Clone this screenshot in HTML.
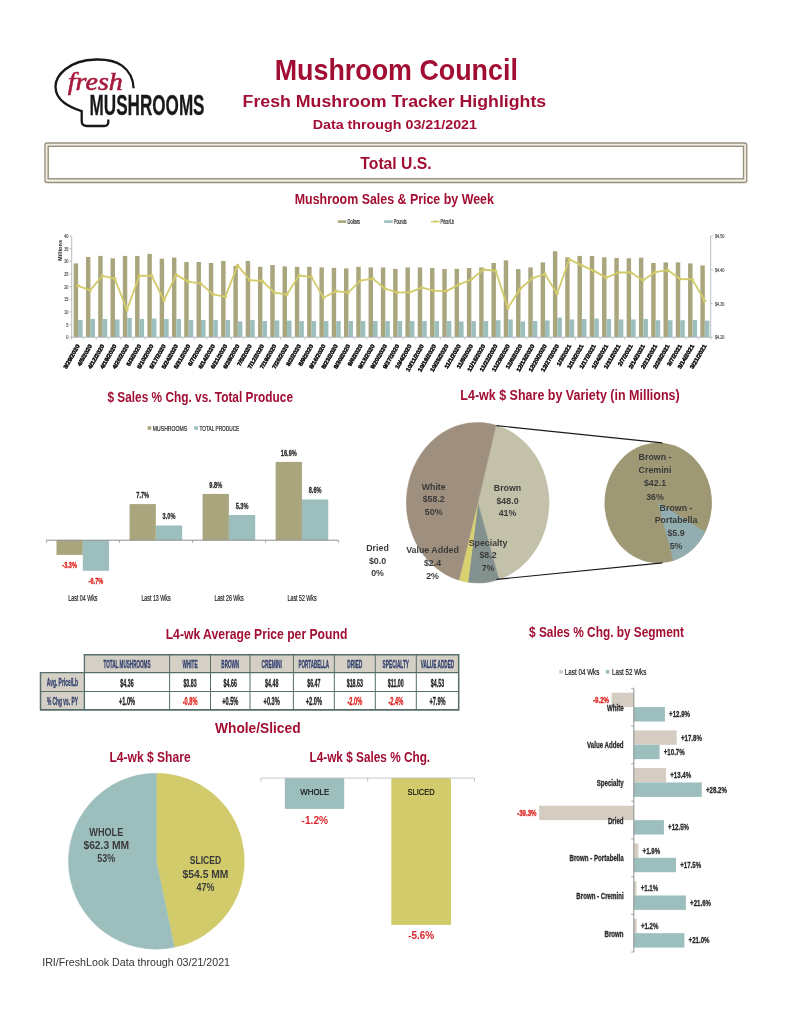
<!DOCTYPE html>
<html lang="en"><head><meta charset="utf-8"><title>Mushroom Council - Fresh Mushroom Tracker Highlights</title>
<style>html,body{margin:0;padding:0;background:#fff}svg{display:block}text{white-space:pre}</style></head>
<body>
<svg width="791" height="1024" viewBox="0 0 791 1024">
<rect width="791" height="1024" fill="#fff"/>
<text transform="translate(396.30 79.70) scale(0.9265 1)" text-anchor="middle" fill="#A20E33" style="font-family:'Liberation Sans',sans-serif;font-size:29px;font-weight:bold;" >Mushroom Council</text>
<text transform="translate(394.40 107.40) scale(1.0317 1)" text-anchor="middle" fill="#A20E33" style="font-family:'Liberation Sans',sans-serif;font-size:17.2px;font-weight:bold;" >Fresh Mushroom Tracker Highlights</text>
<text transform="translate(394.80 129.20) scale(1.0664 1)" text-anchor="middle" fill="#A20E33" style="font-family:'Liberation Sans',sans-serif;font-size:13.4px;font-weight:bold;" >Data through 03/21/2021</text>
<path d="M133.6 88.3 C133.4 80 130 71.5 122 65.6 C115 60.8 105 59.3 96 59.5 C85 59.8 73 62.8 65 69.5 C59 74.5 55.5 80.5 55.5 86.5 C55.5 93 59 99 64.5 103 C69.5 106.7 76 109.3 81.7 111.2 L81.7 121 C81.7 124.8 83.5 126 87 126 L104 126 C107.2 126 108.3 124.6 108.3 122 L108.3 119.5" fill="none" stroke="#1a1718" stroke-width="2.3" stroke-linecap="butt" stroke-linejoin="miter"/>
<text transform="translate(67.80 90.00) scale(1.0945 1)" text-anchor="start" fill="#A6193C" style="font-family:'Liberation Serif',serif;font-size:25.6px;font-style:italic;" stroke="#A6193C" stroke-width="0.55">fresh</text>
<text transform="translate(89.60 114.90) scale(0.5741 1)" text-anchor="start" fill="#1a1718" style="font-family:'Liberation Sans',sans-serif;font-size:29.8px;font-weight:bold;"  stroke="#1a1718" stroke-width="0.3">MUSHROOMS</text>
<rect x="44.95" y="142.95" width="701.8" height="39.5" rx="2" fill="#EFEDE3" stroke="#96917C" stroke-width="1.35"/>
<rect x="48.2" y="146.3" width="695.3" height="32.45" fill="#fff" stroke="#96917C" stroke-width="1.4"/>
<text transform="translate(396.00 169.20) scale(0.9641 1)" text-anchor="middle" fill="#A20E33" style="font-family:'Liberation Sans',sans-serif;font-size:16.3px;font-weight:bold;" >Total U.S.</text>
<text transform="translate(394.30 204.20) scale(0.8873 1)" text-anchor="middle" fill="#A20E33" style="font-family:'Liberation Sans',sans-serif;font-size:14px;font-weight:bold;" >Mushroom Sales &amp; Price by Week</text>
<rect x="337.90" y="220.30" width="8.40" height="2.60" fill="#A9A57C" />
<text transform="translate(347.60 223.80) scale(0.6226 1)" text-anchor="start" fill="#222" style="font-family:'Liberation Sans',sans-serif;font-size:6.4px;"  stroke="#222" stroke-width="0.2">Dollars</text>
<rect x="384.20" y="220.30" width="8.60" height="2.60" fill="#9CBEBD" />
<text transform="translate(394.00 223.80) scale(0.5805 1)" text-anchor="start" fill="#222" style="font-family:'Liberation Sans',sans-serif;font-size:6.4px;"  stroke="#222" stroke-width="0.2">Pounds</text>
<line x1="431.00" y1="221.60" x2="439.70" y2="221.60" stroke="#D2CB6C" stroke-width="1.4" />
<rect x="434.2" y="220.4" width="2.4" height="2.4" fill="#D2CB6C" transform="rotate(45 435.4 221.6)"/>
<text transform="translate(440.40 223.80) scale(0.5835 1)" text-anchor="start" fill="#222" style="font-family:'Liberation Sans',sans-serif;font-size:6.4px;"  stroke="#222" stroke-width="0.2">Price/Lb</text>
<rect x="73.65" y="263.40" width="4.45" height="73.80" fill="#A9A57C"/><rect x="78.10" y="320.03" width="4.55" height="17.17" fill="#9CBEBD"/><rect x="85.94" y="256.92" width="4.45" height="80.28" fill="#A9A57C"/><rect x="90.39" y="319.02" width="4.55" height="18.18" fill="#9CBEBD"/><rect x="98.23" y="255.91" width="4.45" height="81.29" fill="#A9A57C"/><rect x="102.68" y="319.02" width="4.55" height="18.18" fill="#9CBEBD"/><rect x="110.52" y="258.34" width="4.45" height="78.86" fill="#A9A57C"/><rect x="114.97" y="319.42" width="4.55" height="17.78" fill="#9CBEBD"/><rect x="122.80" y="255.91" width="4.45" height="81.29" fill="#A9A57C"/><rect x="127.25" y="318.01" width="4.55" height="19.19" fill="#9CBEBD"/><rect x="135.09" y="255.91" width="4.45" height="81.29" fill="#A9A57C"/><rect x="139.54" y="319.02" width="4.55" height="18.18" fill="#9CBEBD"/><rect x="147.38" y="253.89" width="4.45" height="83.31" fill="#A9A57C"/><rect x="151.83" y="318.61" width="4.55" height="18.59" fill="#9CBEBD"/><rect x="159.67" y="258.74" width="4.45" height="78.46" fill="#A9A57C"/><rect x="164.12" y="319.02" width="4.55" height="18.18" fill="#9CBEBD"/><rect x="171.96" y="257.53" width="4.45" height="79.67" fill="#A9A57C"/><rect x="176.41" y="319.02" width="4.55" height="18.18" fill="#9CBEBD"/><rect x="184.25" y="261.98" width="4.45" height="75.22" fill="#A9A57C"/><rect x="188.70" y="320.03" width="4.55" height="17.17" fill="#9CBEBD"/><rect x="196.53" y="261.98" width="4.45" height="75.22" fill="#A9A57C"/><rect x="200.98" y="320.03" width="4.55" height="17.17" fill="#9CBEBD"/><rect x="208.82" y="262.99" width="4.45" height="74.21" fill="#A9A57C"/><rect x="213.27" y="320.03" width="4.55" height="17.17" fill="#9CBEBD"/><rect x="221.11" y="260.97" width="4.45" height="76.23" fill="#A9A57C"/><rect x="225.56" y="320.03" width="4.55" height="17.17" fill="#9CBEBD"/><rect x="233.40" y="266.03" width="4.45" height="71.17" fill="#A9A57C"/><rect x="237.85" y="321.45" width="4.55" height="15.75" fill="#9CBEBD"/><rect x="245.69" y="260.97" width="4.45" height="76.23" fill="#A9A57C"/><rect x="250.14" y="320.03" width="4.55" height="17.17" fill="#9CBEBD"/><rect x="257.98" y="266.83" width="4.45" height="70.37" fill="#A9A57C"/><rect x="262.43" y="321.04" width="4.55" height="16.16" fill="#9CBEBD"/><rect x="270.27" y="265.01" width="4.45" height="72.19" fill="#A9A57C"/><rect x="274.72" y="320.44" width="4.55" height="16.76" fill="#9CBEBD"/><rect x="282.55" y="266.43" width="4.45" height="70.77" fill="#A9A57C"/><rect x="287.00" y="320.64" width="4.55" height="16.56" fill="#9CBEBD"/><rect x="294.84" y="266.83" width="4.45" height="70.37" fill="#A9A57C"/><rect x="299.29" y="321.04" width="4.55" height="16.16" fill="#9CBEBD"/><rect x="307.13" y="266.83" width="4.45" height="70.37" fill="#A9A57C"/><rect x="311.58" y="321.04" width="4.55" height="16.16" fill="#9CBEBD"/><rect x="319.42" y="267.44" width="4.45" height="69.76" fill="#A9A57C"/><rect x="323.87" y="321.04" width="4.55" height="16.16" fill="#9CBEBD"/><rect x="331.71" y="267.85" width="4.45" height="69.35" fill="#A9A57C"/><rect x="336.16" y="321.04" width="4.55" height="16.16" fill="#9CBEBD"/><rect x="344.00" y="268.45" width="4.45" height="68.75" fill="#A9A57C"/><rect x="348.45" y="321.04" width="4.55" height="16.16" fill="#9CBEBD"/><rect x="356.28" y="266.83" width="4.45" height="70.37" fill="#A9A57C"/><rect x="360.73" y="321.04" width="4.55" height="16.16" fill="#9CBEBD"/><rect x="368.57" y="267.44" width="4.45" height="69.76" fill="#A9A57C"/><rect x="373.02" y="321.04" width="4.55" height="16.16" fill="#9CBEBD"/><rect x="380.86" y="267.44" width="4.45" height="69.76" fill="#A9A57C"/><rect x="385.31" y="321.04" width="4.55" height="16.16" fill="#9CBEBD"/><rect x="393.15" y="268.86" width="4.45" height="68.34" fill="#A9A57C"/><rect x="397.60" y="321.04" width="4.55" height="16.16" fill="#9CBEBD"/><rect x="405.44" y="267.44" width="4.45" height="69.76" fill="#A9A57C"/><rect x="409.89" y="321.04" width="4.55" height="16.16" fill="#9CBEBD"/><rect x="417.73" y="267.44" width="4.45" height="69.76" fill="#A9A57C"/><rect x="422.18" y="321.04" width="4.55" height="16.16" fill="#9CBEBD"/><rect x="430.02" y="268.05" width="4.45" height="69.15" fill="#A9A57C"/><rect x="434.47" y="321.04" width="4.55" height="16.16" fill="#9CBEBD"/><rect x="442.30" y="269.06" width="4.45" height="68.14" fill="#A9A57C"/><rect x="446.75" y="321.04" width="4.55" height="16.16" fill="#9CBEBD"/><rect x="454.59" y="268.86" width="4.45" height="68.34" fill="#A9A57C"/><rect x="459.04" y="321.45" width="4.55" height="15.75" fill="#9CBEBD"/><rect x="466.88" y="268.05" width="4.45" height="69.15" fill="#A9A57C"/><rect x="471.33" y="321.04" width="4.55" height="16.16" fill="#9CBEBD"/><rect x="479.17" y="267.44" width="4.45" height="69.76" fill="#A9A57C"/><rect x="483.62" y="321.04" width="4.55" height="16.16" fill="#9CBEBD"/><rect x="491.46" y="262.99" width="4.45" height="74.21" fill="#A9A57C"/><rect x="495.91" y="320.23" width="4.55" height="16.97" fill="#9CBEBD"/><rect x="503.75" y="260.36" width="4.45" height="76.84" fill="#A9A57C"/><rect x="508.20" y="319.42" width="4.55" height="17.78" fill="#9CBEBD"/><rect x="516.03" y="269.06" width="4.45" height="68.14" fill="#A9A57C"/><rect x="520.48" y="321.45" width="4.55" height="15.75" fill="#9CBEBD"/><rect x="528.32" y="267.44" width="4.45" height="69.76" fill="#A9A57C"/><rect x="532.77" y="321.04" width="4.55" height="16.16" fill="#9CBEBD"/><rect x="540.61" y="262.39" width="4.45" height="74.81" fill="#A9A57C"/><rect x="545.06" y="320.44" width="4.55" height="16.76" fill="#9CBEBD"/><rect x="552.90" y="251.26" width="4.45" height="85.94" fill="#A9A57C"/><rect x="557.35" y="317.60" width="4.55" height="19.60" fill="#9CBEBD"/><rect x="565.19" y="257.33" width="4.45" height="79.87" fill="#A9A57C"/><rect x="569.64" y="319.42" width="4.55" height="17.78" fill="#9CBEBD"/><rect x="577.48" y="255.91" width="4.45" height="81.29" fill="#A9A57C"/><rect x="581.93" y="319.02" width="4.55" height="18.18" fill="#9CBEBD"/><rect x="589.77" y="255.91" width="4.45" height="81.29" fill="#A9A57C"/><rect x="594.22" y="318.61" width="4.55" height="18.59" fill="#9CBEBD"/><rect x="602.05" y="257.33" width="4.45" height="79.87" fill="#A9A57C"/><rect x="606.50" y="319.02" width="4.55" height="18.18" fill="#9CBEBD"/><rect x="614.34" y="257.94" width="4.45" height="79.26" fill="#A9A57C"/><rect x="618.79" y="319.42" width="4.55" height="17.78" fill="#9CBEBD"/><rect x="626.63" y="258.34" width="4.45" height="78.86" fill="#A9A57C"/><rect x="631.08" y="319.42" width="4.55" height="17.78" fill="#9CBEBD"/><rect x="638.92" y="257.73" width="4.45" height="79.47" fill="#A9A57C"/><rect x="643.37" y="319.02" width="4.55" height="18.18" fill="#9CBEBD"/><rect x="651.21" y="262.99" width="4.45" height="74.21" fill="#A9A57C"/><rect x="655.66" y="320.23" width="4.55" height="16.97" fill="#9CBEBD"/><rect x="663.50" y="262.39" width="4.45" height="74.81" fill="#A9A57C"/><rect x="667.95" y="320.23" width="4.55" height="16.97" fill="#9CBEBD"/><rect x="675.78" y="262.39" width="4.45" height="74.81" fill="#A9A57C"/><rect x="680.23" y="320.23" width="4.55" height="16.97" fill="#9CBEBD"/><rect x="688.07" y="263.40" width="4.45" height="73.80" fill="#A9A57C"/><rect x="692.52" y="320.03" width="4.55" height="17.17" fill="#9CBEBD"/><rect x="700.36" y="265.42" width="4.45" height="71.78" fill="#A9A57C"/><rect x="704.81" y="320.64" width="4.55" height="16.56" fill="#9CBEBD"/>
<line x1="71.70" y1="236.00" x2="71.70" y2="337.70" stroke="#a6afb4" stroke-width="0.8" />
<line x1="71.70" y1="337.20" x2="710.70" y2="337.20" stroke="#a6afb4" stroke-width="0.8" />
<line x1="710.70" y1="236.00" x2="710.70" y2="337.70" stroke="#a6afb4" stroke-width="0.8" />
<line x1="69.50" y1="337.20" x2="71.70" y2="337.20" stroke="#a6afb4" stroke-width="0.7" />
<text transform="translate(68.40 339.30) scale(0.6200 1)" text-anchor="end" fill="#555" style="font-family:'Liberation Sans',sans-serif;font-size:6.2px;"  stroke="#555" stroke-width="0.2">0</text>
<line x1="69.50" y1="324.55" x2="71.70" y2="324.55" stroke="#a6afb4" stroke-width="0.7" />
<text transform="translate(68.40 326.65) scale(0.6200 1)" text-anchor="end" fill="#555" style="font-family:'Liberation Sans',sans-serif;font-size:6.2px;"  stroke="#555" stroke-width="0.2">5</text>
<line x1="69.50" y1="311.90" x2="71.70" y2="311.90" stroke="#a6afb4" stroke-width="0.7" />
<text transform="translate(68.40 314.00) scale(0.6200 1)" text-anchor="end" fill="#555" style="font-family:'Liberation Sans',sans-serif;font-size:6.2px;"  stroke="#555" stroke-width="0.2">10</text>
<line x1="69.50" y1="299.25" x2="71.70" y2="299.25" stroke="#a6afb4" stroke-width="0.7" />
<text transform="translate(68.40 301.35) scale(0.6200 1)" text-anchor="end" fill="#555" style="font-family:'Liberation Sans',sans-serif;font-size:6.2px;"  stroke="#555" stroke-width="0.2">15</text>
<line x1="69.50" y1="286.60" x2="71.70" y2="286.60" stroke="#a6afb4" stroke-width="0.7" />
<text transform="translate(68.40 288.70) scale(0.6200 1)" text-anchor="end" fill="#555" style="font-family:'Liberation Sans',sans-serif;font-size:6.2px;"  stroke="#555" stroke-width="0.2">20</text>
<line x1="69.50" y1="273.95" x2="71.70" y2="273.95" stroke="#a6afb4" stroke-width="0.7" />
<text transform="translate(68.40 276.05) scale(0.6200 1)" text-anchor="end" fill="#555" style="font-family:'Liberation Sans',sans-serif;font-size:6.2px;"  stroke="#555" stroke-width="0.2">25</text>
<line x1="69.50" y1="261.30" x2="71.70" y2="261.30" stroke="#a6afb4" stroke-width="0.7" />
<text transform="translate(68.40 263.40) scale(0.6200 1)" text-anchor="end" fill="#555" style="font-family:'Liberation Sans',sans-serif;font-size:6.2px;"  stroke="#555" stroke-width="0.2">30</text>
<line x1="69.50" y1="248.65" x2="71.70" y2="248.65" stroke="#a6afb4" stroke-width="0.7" />
<text transform="translate(68.40 250.75) scale(0.6200 1)" text-anchor="end" fill="#555" style="font-family:'Liberation Sans',sans-serif;font-size:6.2px;"  stroke="#555" stroke-width="0.2">35</text>
<line x1="69.50" y1="236.00" x2="71.70" y2="236.00" stroke="#a6afb4" stroke-width="0.7" />
<text transform="translate(68.40 238.10) scale(0.6200 1)" text-anchor="end" fill="#555" style="font-family:'Liberation Sans',sans-serif;font-size:6.2px;"  stroke="#555" stroke-width="0.2">40</text>
<line x1="710.70" y1="337.20" x2="712.90" y2="337.20" stroke="#a6afb4" stroke-width="0.7" />
<text transform="translate(714.90 339.30) scale(0.6200 1)" text-anchor="start" fill="#555" style="font-family:'Liberation Sans',sans-serif;font-size:6.2px;"  stroke="#555" stroke-width="0.2">$4.20</text>
<line x1="710.70" y1="303.47" x2="712.90" y2="303.47" stroke="#a6afb4" stroke-width="0.7" />
<text transform="translate(714.90 305.57) scale(0.6200 1)" text-anchor="start" fill="#555" style="font-family:'Liberation Sans',sans-serif;font-size:6.2px;"  stroke="#555" stroke-width="0.2">$4.30</text>
<line x1="710.70" y1="269.73" x2="712.90" y2="269.73" stroke="#a6afb4" stroke-width="0.7" />
<text transform="translate(714.90 271.83) scale(0.6200 1)" text-anchor="start" fill="#555" style="font-family:'Liberation Sans',sans-serif;font-size:6.2px;"  stroke="#555" stroke-width="0.2">$4.40</text>
<line x1="710.70" y1="236.00" x2="712.90" y2="236.00" stroke="#a6afb4" stroke-width="0.7" />
<text transform="translate(714.90 238.10) scale(0.6200 1)" text-anchor="start" fill="#555" style="font-family:'Liberation Sans',sans-serif;font-size:6.2px;"  stroke="#555" stroke-width="0.2">$4.50</text>
<line x1="71.70" y1="337.20" x2="71.70" y2="339.60" stroke="#a6afb4" stroke-width="0.7" />
<line x1="83.99" y1="337.20" x2="83.99" y2="339.60" stroke="#a6afb4" stroke-width="0.7" />
<line x1="96.28" y1="337.20" x2="96.28" y2="339.60" stroke="#a6afb4" stroke-width="0.7" />
<line x1="108.57" y1="337.20" x2="108.57" y2="339.60" stroke="#a6afb4" stroke-width="0.7" />
<line x1="120.85" y1="337.20" x2="120.85" y2="339.60" stroke="#a6afb4" stroke-width="0.7" />
<line x1="133.14" y1="337.20" x2="133.14" y2="339.60" stroke="#a6afb4" stroke-width="0.7" />
<line x1="145.43" y1="337.20" x2="145.43" y2="339.60" stroke="#a6afb4" stroke-width="0.7" />
<line x1="157.72" y1="337.20" x2="157.72" y2="339.60" stroke="#a6afb4" stroke-width="0.7" />
<line x1="170.01" y1="337.20" x2="170.01" y2="339.60" stroke="#a6afb4" stroke-width="0.7" />
<line x1="182.30" y1="337.20" x2="182.30" y2="339.60" stroke="#a6afb4" stroke-width="0.7" />
<line x1="194.58" y1="337.20" x2="194.58" y2="339.60" stroke="#a6afb4" stroke-width="0.7" />
<line x1="206.87" y1="337.20" x2="206.87" y2="339.60" stroke="#a6afb4" stroke-width="0.7" />
<line x1="219.16" y1="337.20" x2="219.16" y2="339.60" stroke="#a6afb4" stroke-width="0.7" />
<line x1="231.45" y1="337.20" x2="231.45" y2="339.60" stroke="#a6afb4" stroke-width="0.7" />
<line x1="243.74" y1="337.20" x2="243.74" y2="339.60" stroke="#a6afb4" stroke-width="0.7" />
<line x1="256.03" y1="337.20" x2="256.03" y2="339.60" stroke="#a6afb4" stroke-width="0.7" />
<line x1="268.32" y1="337.20" x2="268.32" y2="339.60" stroke="#a6afb4" stroke-width="0.7" />
<line x1="280.60" y1="337.20" x2="280.60" y2="339.60" stroke="#a6afb4" stroke-width="0.7" />
<line x1="292.89" y1="337.20" x2="292.89" y2="339.60" stroke="#a6afb4" stroke-width="0.7" />
<line x1="305.18" y1="337.20" x2="305.18" y2="339.60" stroke="#a6afb4" stroke-width="0.7" />
<line x1="317.47" y1="337.20" x2="317.47" y2="339.60" stroke="#a6afb4" stroke-width="0.7" />
<line x1="329.76" y1="337.20" x2="329.76" y2="339.60" stroke="#a6afb4" stroke-width="0.7" />
<line x1="342.05" y1="337.20" x2="342.05" y2="339.60" stroke="#a6afb4" stroke-width="0.7" />
<line x1="354.33" y1="337.20" x2="354.33" y2="339.60" stroke="#a6afb4" stroke-width="0.7" />
<line x1="366.62" y1="337.20" x2="366.62" y2="339.60" stroke="#a6afb4" stroke-width="0.7" />
<line x1="378.91" y1="337.20" x2="378.91" y2="339.60" stroke="#a6afb4" stroke-width="0.7" />
<line x1="391.20" y1="337.20" x2="391.20" y2="339.60" stroke="#a6afb4" stroke-width="0.7" />
<line x1="403.49" y1="337.20" x2="403.49" y2="339.60" stroke="#a6afb4" stroke-width="0.7" />
<line x1="415.78" y1="337.20" x2="415.78" y2="339.60" stroke="#a6afb4" stroke-width="0.7" />
<line x1="428.07" y1="337.20" x2="428.07" y2="339.60" stroke="#a6afb4" stroke-width="0.7" />
<line x1="440.35" y1="337.20" x2="440.35" y2="339.60" stroke="#a6afb4" stroke-width="0.7" />
<line x1="452.64" y1="337.20" x2="452.64" y2="339.60" stroke="#a6afb4" stroke-width="0.7" />
<line x1="464.93" y1="337.20" x2="464.93" y2="339.60" stroke="#a6afb4" stroke-width="0.7" />
<line x1="477.22" y1="337.20" x2="477.22" y2="339.60" stroke="#a6afb4" stroke-width="0.7" />
<line x1="489.51" y1="337.20" x2="489.51" y2="339.60" stroke="#a6afb4" stroke-width="0.7" />
<line x1="501.80" y1="337.20" x2="501.80" y2="339.60" stroke="#a6afb4" stroke-width="0.7" />
<line x1="514.08" y1="337.20" x2="514.08" y2="339.60" stroke="#a6afb4" stroke-width="0.7" />
<line x1="526.37" y1="337.20" x2="526.37" y2="339.60" stroke="#a6afb4" stroke-width="0.7" />
<line x1="538.66" y1="337.20" x2="538.66" y2="339.60" stroke="#a6afb4" stroke-width="0.7" />
<line x1="550.95" y1="337.20" x2="550.95" y2="339.60" stroke="#a6afb4" stroke-width="0.7" />
<line x1="563.24" y1="337.20" x2="563.24" y2="339.60" stroke="#a6afb4" stroke-width="0.7" />
<line x1="575.53" y1="337.20" x2="575.53" y2="339.60" stroke="#a6afb4" stroke-width="0.7" />
<line x1="587.82" y1="337.20" x2="587.82" y2="339.60" stroke="#a6afb4" stroke-width="0.7" />
<line x1="600.10" y1="337.20" x2="600.10" y2="339.60" stroke="#a6afb4" stroke-width="0.7" />
<line x1="612.39" y1="337.20" x2="612.39" y2="339.60" stroke="#a6afb4" stroke-width="0.7" />
<line x1="624.68" y1="337.20" x2="624.68" y2="339.60" stroke="#a6afb4" stroke-width="0.7" />
<line x1="636.97" y1="337.20" x2="636.97" y2="339.60" stroke="#a6afb4" stroke-width="0.7" />
<line x1="649.26" y1="337.20" x2="649.26" y2="339.60" stroke="#a6afb4" stroke-width="0.7" />
<line x1="661.55" y1="337.20" x2="661.55" y2="339.60" stroke="#a6afb4" stroke-width="0.7" />
<line x1="673.83" y1="337.20" x2="673.83" y2="339.60" stroke="#a6afb4" stroke-width="0.7" />
<line x1="686.12" y1="337.20" x2="686.12" y2="339.60" stroke="#a6afb4" stroke-width="0.7" />
<line x1="698.41" y1="337.20" x2="698.41" y2="339.60" stroke="#a6afb4" stroke-width="0.7" />
<line x1="710.70" y1="337.20" x2="710.70" y2="339.60" stroke="#a6afb4" stroke-width="0.7" />
<text transform="translate(62.40 250.40) rotate(-90) scale(0.9500 1)" text-anchor="middle" fill="#222" style="font-family:'Liberation Sans',sans-serif;font-size:6.0px;font-weight:bold;" >Millions</text>
<polyline points="77.8,285.6 90.1,290.3 102.4,275.9 114.7,278.6 127.0,309.9 139.3,275.9 151.6,275.5 163.9,300.4 176.2,274.9 188.4,281.6 200.7,283.6 213.0,294.3 225.3,296.8 237.6,265.4 249.9,280.2 262.2,281.0 274.5,292.7 286.7,294.7 299.0,275.5 311.3,276.9 323.6,297.8 335.9,291.1 348.2,292.7 360.5,280.6 372.8,278.6 385.1,288.7 397.3,292.3 409.6,292.3 421.9,287.7 434.2,290.7 446.5,291.1 458.8,284.6 471.1,279.6 483.4,269.5 495.7,270.9 507.9,307.9 520.2,288.7 532.5,278.2 544.8,274.1 557.1,293.7 569.4,259.4 581.7,265.4 594.0,270.9 606.2,277.6 618.5,272.5 630.8,272.5 643.1,280.2 655.4,272.1 667.7,270.1 680.0,279.0 692.3,279.4 704.6,300.8" fill="none" stroke="#D2CB6C" stroke-width="1.8" stroke-linejoin="round"/>
<g fill="#D2CB6C"><rect x="76.3" y="284.1" width="3" height="3" transform="rotate(45 77.8 285.6)"/><rect x="88.6" y="288.8" width="3" height="3" transform="rotate(45 90.1 290.3)"/><rect x="100.9" y="274.4" width="3" height="3" transform="rotate(45 102.4 275.9)"/><rect x="113.2" y="277.1" width="3" height="3" transform="rotate(45 114.7 278.6)"/><rect x="125.5" y="308.4" width="3" height="3" transform="rotate(45 127.0 309.9)"/><rect x="137.8" y="274.4" width="3" height="3" transform="rotate(45 139.3 275.9)"/><rect x="150.1" y="274.0" width="3" height="3" transform="rotate(45 151.6 275.5)"/><rect x="162.4" y="298.9" width="3" height="3" transform="rotate(45 163.9 300.4)"/><rect x="174.7" y="273.4" width="3" height="3" transform="rotate(45 176.2 274.9)"/><rect x="186.9" y="280.1" width="3" height="3" transform="rotate(45 188.4 281.6)"/><rect x="199.2" y="282.1" width="3" height="3" transform="rotate(45 200.7 283.6)"/><rect x="211.5" y="292.8" width="3" height="3" transform="rotate(45 213.0 294.3)"/><rect x="223.8" y="295.3" width="3" height="3" transform="rotate(45 225.3 296.8)"/><rect x="236.1" y="263.9" width="3" height="3" transform="rotate(45 237.6 265.4)"/><rect x="248.4" y="278.7" width="3" height="3" transform="rotate(45 249.9 280.2)"/><rect x="260.7" y="279.5" width="3" height="3" transform="rotate(45 262.2 281.0)"/><rect x="273.0" y="291.2" width="3" height="3" transform="rotate(45 274.5 292.7)"/><rect x="285.2" y="293.2" width="3" height="3" transform="rotate(45 286.7 294.7)"/><rect x="297.5" y="274.0" width="3" height="3" transform="rotate(45 299.0 275.5)"/><rect x="309.8" y="275.4" width="3" height="3" transform="rotate(45 311.3 276.9)"/><rect x="322.1" y="296.3" width="3" height="3" transform="rotate(45 323.6 297.8)"/><rect x="334.4" y="289.6" width="3" height="3" transform="rotate(45 335.9 291.1)"/><rect x="346.7" y="291.2" width="3" height="3" transform="rotate(45 348.2 292.7)"/><rect x="359.0" y="279.1" width="3" height="3" transform="rotate(45 360.5 280.6)"/><rect x="371.3" y="277.1" width="3" height="3" transform="rotate(45 372.8 278.6)"/><rect x="383.6" y="287.2" width="3" height="3" transform="rotate(45 385.1 288.7)"/><rect x="395.8" y="290.8" width="3" height="3" transform="rotate(45 397.3 292.3)"/><rect x="408.1" y="290.8" width="3" height="3" transform="rotate(45 409.6 292.3)"/><rect x="420.4" y="286.2" width="3" height="3" transform="rotate(45 421.9 287.7)"/><rect x="432.7" y="289.2" width="3" height="3" transform="rotate(45 434.2 290.7)"/><rect x="445.0" y="289.6" width="3" height="3" transform="rotate(45 446.5 291.1)"/><rect x="457.3" y="283.1" width="3" height="3" transform="rotate(45 458.8 284.6)"/><rect x="469.6" y="278.1" width="3" height="3" transform="rotate(45 471.1 279.6)"/><rect x="481.9" y="268.0" width="3" height="3" transform="rotate(45 483.4 269.5)"/><rect x="494.2" y="269.4" width="3" height="3" transform="rotate(45 495.7 270.9)"/><rect x="506.4" y="306.4" width="3" height="3" transform="rotate(45 507.9 307.9)"/><rect x="518.7" y="287.2" width="3" height="3" transform="rotate(45 520.2 288.7)"/><rect x="531.0" y="276.7" width="3" height="3" transform="rotate(45 532.5 278.2)"/><rect x="543.3" y="272.6" width="3" height="3" transform="rotate(45 544.8 274.1)"/><rect x="555.6" y="292.2" width="3" height="3" transform="rotate(45 557.1 293.7)"/><rect x="567.9" y="257.9" width="3" height="3" transform="rotate(45 569.4 259.4)"/><rect x="580.2" y="263.9" width="3" height="3" transform="rotate(45 581.7 265.4)"/><rect x="592.5" y="269.4" width="3" height="3" transform="rotate(45 594.0 270.9)"/><rect x="604.7" y="276.1" width="3" height="3" transform="rotate(45 606.2 277.6)"/><rect x="617.0" y="271.0" width="3" height="3" transform="rotate(45 618.5 272.5)"/><rect x="629.3" y="271.0" width="3" height="3" transform="rotate(45 630.8 272.5)"/><rect x="641.6" y="278.7" width="3" height="3" transform="rotate(45 643.1 280.2)"/><rect x="653.9" y="270.6" width="3" height="3" transform="rotate(45 655.4 272.1)"/><rect x="666.2" y="268.6" width="3" height="3" transform="rotate(45 667.7 270.1)"/><rect x="678.5" y="277.5" width="3" height="3" transform="rotate(45 680.0 279.0)"/><rect x="690.8" y="277.9" width="3" height="3" transform="rotate(45 692.3 279.4)"/><rect x="703.1" y="299.3" width="3" height="3" transform="rotate(45 704.6 300.8)"/></g>
<text transform="translate(79.94 345.90) rotate(-60) scale(1.0700 1)" text-anchor="end" fill="#0c0c0c" style="font-family:'Liberation Sans',sans-serif;font-size:5.7px;font-weight:bold;" stroke="#0c0c0c" stroke-width="0.45">3/29/2020</text>
<text transform="translate(92.23 345.90) rotate(-60) scale(1.0700 1)" text-anchor="end" fill="#0c0c0c" style="font-family:'Liberation Sans',sans-serif;font-size:5.7px;font-weight:bold;" stroke="#0c0c0c" stroke-width="0.45">4/5/2020</text>
<text transform="translate(104.52 345.90) rotate(-60) scale(1.0700 1)" text-anchor="end" fill="#0c0c0c" style="font-family:'Liberation Sans',sans-serif;font-size:5.7px;font-weight:bold;" stroke="#0c0c0c" stroke-width="0.45">4/12/2020</text>
<text transform="translate(116.81 345.90) rotate(-60) scale(1.0700 1)" text-anchor="end" fill="#0c0c0c" style="font-family:'Liberation Sans',sans-serif;font-size:5.7px;font-weight:bold;" stroke="#0c0c0c" stroke-width="0.45">4/19/2020</text>
<text transform="translate(129.10 345.90) rotate(-60) scale(1.0700 1)" text-anchor="end" fill="#0c0c0c" style="font-family:'Liberation Sans',sans-serif;font-size:5.7px;font-weight:bold;" stroke="#0c0c0c" stroke-width="0.45">4/26/2020</text>
<text transform="translate(141.39 345.90) rotate(-60) scale(1.0700 1)" text-anchor="end" fill="#0c0c0c" style="font-family:'Liberation Sans',sans-serif;font-size:5.7px;font-weight:bold;" stroke="#0c0c0c" stroke-width="0.45">5/3/2020</text>
<text transform="translate(153.67 345.90) rotate(-60) scale(1.0700 1)" text-anchor="end" fill="#0c0c0c" style="font-family:'Liberation Sans',sans-serif;font-size:5.7px;font-weight:bold;" stroke="#0c0c0c" stroke-width="0.45">5/10/2020</text>
<text transform="translate(165.96 345.90) rotate(-60) scale(1.0700 1)" text-anchor="end" fill="#0c0c0c" style="font-family:'Liberation Sans',sans-serif;font-size:5.7px;font-weight:bold;" stroke="#0c0c0c" stroke-width="0.45">5/17/2020</text>
<text transform="translate(178.25 345.90) rotate(-60) scale(1.0700 1)" text-anchor="end" fill="#0c0c0c" style="font-family:'Liberation Sans',sans-serif;font-size:5.7px;font-weight:bold;" stroke="#0c0c0c" stroke-width="0.45">5/24/2020</text>
<text transform="translate(190.54 345.90) rotate(-60) scale(1.0700 1)" text-anchor="end" fill="#0c0c0c" style="font-family:'Liberation Sans',sans-serif;font-size:5.7px;font-weight:bold;" stroke="#0c0c0c" stroke-width="0.45">5/31/2020</text>
<text transform="translate(202.83 345.90) rotate(-60) scale(1.0700 1)" text-anchor="end" fill="#0c0c0c" style="font-family:'Liberation Sans',sans-serif;font-size:5.7px;font-weight:bold;" stroke="#0c0c0c" stroke-width="0.45">6/7/2020</text>
<text transform="translate(215.12 345.90) rotate(-60) scale(1.0700 1)" text-anchor="end" fill="#0c0c0c" style="font-family:'Liberation Sans',sans-serif;font-size:5.7px;font-weight:bold;" stroke="#0c0c0c" stroke-width="0.45">6/14/2020</text>
<text transform="translate(227.41 345.90) rotate(-60) scale(1.0700 1)" text-anchor="end" fill="#0c0c0c" style="font-family:'Liberation Sans',sans-serif;font-size:5.7px;font-weight:bold;" stroke="#0c0c0c" stroke-width="0.45">6/21/2020</text>
<text transform="translate(239.69 345.90) rotate(-60) scale(1.0700 1)" text-anchor="end" fill="#0c0c0c" style="font-family:'Liberation Sans',sans-serif;font-size:5.7px;font-weight:bold;" stroke="#0c0c0c" stroke-width="0.45">6/28/2020</text>
<text transform="translate(251.98 345.90) rotate(-60) scale(1.0700 1)" text-anchor="end" fill="#0c0c0c" style="font-family:'Liberation Sans',sans-serif;font-size:5.7px;font-weight:bold;" stroke="#0c0c0c" stroke-width="0.45">7/5/2020</text>
<text transform="translate(264.27 345.90) rotate(-60) scale(1.0700 1)" text-anchor="end" fill="#0c0c0c" style="font-family:'Liberation Sans',sans-serif;font-size:5.7px;font-weight:bold;" stroke="#0c0c0c" stroke-width="0.45">7/12/2020</text>
<text transform="translate(276.56 345.90) rotate(-60) scale(1.0700 1)" text-anchor="end" fill="#0c0c0c" style="font-family:'Liberation Sans',sans-serif;font-size:5.7px;font-weight:bold;" stroke="#0c0c0c" stroke-width="0.45">7/19/2020</text>
<text transform="translate(288.85 345.90) rotate(-60) scale(1.0700 1)" text-anchor="end" fill="#0c0c0c" style="font-family:'Liberation Sans',sans-serif;font-size:5.7px;font-weight:bold;" stroke="#0c0c0c" stroke-width="0.45">7/26/2020</text>
<text transform="translate(301.14 345.90) rotate(-60) scale(1.0700 1)" text-anchor="end" fill="#0c0c0c" style="font-family:'Liberation Sans',sans-serif;font-size:5.7px;font-weight:bold;" stroke="#0c0c0c" stroke-width="0.45">8/2/2020</text>
<text transform="translate(313.43 345.90) rotate(-60) scale(1.0700 1)" text-anchor="end" fill="#0c0c0c" style="font-family:'Liberation Sans',sans-serif;font-size:5.7px;font-weight:bold;" stroke="#0c0c0c" stroke-width="0.45">8/9/2020</text>
<text transform="translate(325.71 345.90) rotate(-60) scale(1.0700 1)" text-anchor="end" fill="#0c0c0c" style="font-family:'Liberation Sans',sans-serif;font-size:5.7px;font-weight:bold;" stroke="#0c0c0c" stroke-width="0.45">8/16/2020</text>
<text transform="translate(338.00 345.90) rotate(-60) scale(1.0700 1)" text-anchor="end" fill="#0c0c0c" style="font-family:'Liberation Sans',sans-serif;font-size:5.7px;font-weight:bold;" stroke="#0c0c0c" stroke-width="0.45">8/23/2020</text>
<text transform="translate(350.29 345.90) rotate(-60) scale(1.0700 1)" text-anchor="end" fill="#0c0c0c" style="font-family:'Liberation Sans',sans-serif;font-size:5.7px;font-weight:bold;" stroke="#0c0c0c" stroke-width="0.45">8/30/2020</text>
<text transform="translate(362.58 345.90) rotate(-60) scale(1.0700 1)" text-anchor="end" fill="#0c0c0c" style="font-family:'Liberation Sans',sans-serif;font-size:5.7px;font-weight:bold;" stroke="#0c0c0c" stroke-width="0.45">9/6/2020</text>
<text transform="translate(374.87 345.90) rotate(-60) scale(1.0700 1)" text-anchor="end" fill="#0c0c0c" style="font-family:'Liberation Sans',sans-serif;font-size:5.7px;font-weight:bold;" stroke="#0c0c0c" stroke-width="0.45">9/13/2020</text>
<text transform="translate(387.16 345.90) rotate(-60) scale(1.0700 1)" text-anchor="end" fill="#0c0c0c" style="font-family:'Liberation Sans',sans-serif;font-size:5.7px;font-weight:bold;" stroke="#0c0c0c" stroke-width="0.45">9/20/2020</text>
<text transform="translate(399.44 345.90) rotate(-60) scale(1.0700 1)" text-anchor="end" fill="#0c0c0c" style="font-family:'Liberation Sans',sans-serif;font-size:5.7px;font-weight:bold;" stroke="#0c0c0c" stroke-width="0.45">9/27/2020</text>
<text transform="translate(411.73 345.90) rotate(-60) scale(1.0700 1)" text-anchor="end" fill="#0c0c0c" style="font-family:'Liberation Sans',sans-serif;font-size:5.7px;font-weight:bold;" stroke="#0c0c0c" stroke-width="0.45">10/4/2020</text>
<text transform="translate(424.02 345.90) rotate(-60) scale(1.0700 1)" text-anchor="end" fill="#0c0c0c" style="font-family:'Liberation Sans',sans-serif;font-size:5.7px;font-weight:bold;" stroke="#0c0c0c" stroke-width="0.45">10/11/2020</text>
<text transform="translate(436.31 345.90) rotate(-60) scale(1.0700 1)" text-anchor="end" fill="#0c0c0c" style="font-family:'Liberation Sans',sans-serif;font-size:5.7px;font-weight:bold;" stroke="#0c0c0c" stroke-width="0.45">10/18/2020</text>
<text transform="translate(448.60 345.90) rotate(-60) scale(1.0700 1)" text-anchor="end" fill="#0c0c0c" style="font-family:'Liberation Sans',sans-serif;font-size:5.7px;font-weight:bold;" stroke="#0c0c0c" stroke-width="0.45">10/25/2020</text>
<text transform="translate(460.89 345.90) rotate(-60) scale(1.0700 1)" text-anchor="end" fill="#0c0c0c" style="font-family:'Liberation Sans',sans-serif;font-size:5.7px;font-weight:bold;" stroke="#0c0c0c" stroke-width="0.45">11/1/2020</text>
<text transform="translate(473.18 345.90) rotate(-60) scale(1.0700 1)" text-anchor="end" fill="#0c0c0c" style="font-family:'Liberation Sans',sans-serif;font-size:5.7px;font-weight:bold;" stroke="#0c0c0c" stroke-width="0.45">11/8/2020</text>
<text transform="translate(485.46 345.90) rotate(-60) scale(1.0700 1)" text-anchor="end" fill="#0c0c0c" style="font-family:'Liberation Sans',sans-serif;font-size:5.7px;font-weight:bold;" stroke="#0c0c0c" stroke-width="0.45">11/15/2020</text>
<text transform="translate(497.75 345.90) rotate(-60) scale(1.0700 1)" text-anchor="end" fill="#0c0c0c" style="font-family:'Liberation Sans',sans-serif;font-size:5.7px;font-weight:bold;" stroke="#0c0c0c" stroke-width="0.45">11/22/2020</text>
<text transform="translate(510.04 345.90) rotate(-60) scale(1.0700 1)" text-anchor="end" fill="#0c0c0c" style="font-family:'Liberation Sans',sans-serif;font-size:5.7px;font-weight:bold;" stroke="#0c0c0c" stroke-width="0.45">11/29/2020</text>
<text transform="translate(522.33 345.90) rotate(-60) scale(1.0700 1)" text-anchor="end" fill="#0c0c0c" style="font-family:'Liberation Sans',sans-serif;font-size:5.7px;font-weight:bold;" stroke="#0c0c0c" stroke-width="0.45">12/6/2020</text>
<text transform="translate(534.62 345.90) rotate(-60) scale(1.0700 1)" text-anchor="end" fill="#0c0c0c" style="font-family:'Liberation Sans',sans-serif;font-size:5.7px;font-weight:bold;" stroke="#0c0c0c" stroke-width="0.45">12/13/2020</text>
<text transform="translate(546.91 345.90) rotate(-60) scale(1.0700 1)" text-anchor="end" fill="#0c0c0c" style="font-family:'Liberation Sans',sans-serif;font-size:5.7px;font-weight:bold;" stroke="#0c0c0c" stroke-width="0.45">12/20/2020</text>
<text transform="translate(559.19 345.90) rotate(-60) scale(1.0700 1)" text-anchor="end" fill="#0c0c0c" style="font-family:'Liberation Sans',sans-serif;font-size:5.7px;font-weight:bold;" stroke="#0c0c0c" stroke-width="0.45">12/27/2020</text>
<text transform="translate(571.48 345.90) rotate(-60) scale(1.0700 1)" text-anchor="end" fill="#0c0c0c" style="font-family:'Liberation Sans',sans-serif;font-size:5.7px;font-weight:bold;" stroke="#0c0c0c" stroke-width="0.45">1/3/2021</text>
<text transform="translate(583.77 345.90) rotate(-60) scale(1.0700 1)" text-anchor="end" fill="#0c0c0c" style="font-family:'Liberation Sans',sans-serif;font-size:5.7px;font-weight:bold;" stroke="#0c0c0c" stroke-width="0.45">1/10/2021</text>
<text transform="translate(596.06 345.90) rotate(-60) scale(1.0700 1)" text-anchor="end" fill="#0c0c0c" style="font-family:'Liberation Sans',sans-serif;font-size:5.7px;font-weight:bold;" stroke="#0c0c0c" stroke-width="0.45">1/17/2021</text>
<text transform="translate(608.35 345.90) rotate(-60) scale(1.0700 1)" text-anchor="end" fill="#0c0c0c" style="font-family:'Liberation Sans',sans-serif;font-size:5.7px;font-weight:bold;" stroke="#0c0c0c" stroke-width="0.45">1/24/2021</text>
<text transform="translate(620.64 345.90) rotate(-60) scale(1.0700 1)" text-anchor="end" fill="#0c0c0c" style="font-family:'Liberation Sans',sans-serif;font-size:5.7px;font-weight:bold;" stroke="#0c0c0c" stroke-width="0.45">1/31/2021</text>
<text transform="translate(632.93 345.90) rotate(-60) scale(1.0700 1)" text-anchor="end" fill="#0c0c0c" style="font-family:'Liberation Sans',sans-serif;font-size:5.7px;font-weight:bold;" stroke="#0c0c0c" stroke-width="0.45">2/7/2021</text>
<text transform="translate(645.21 345.90) rotate(-60) scale(1.0700 1)" text-anchor="end" fill="#0c0c0c" style="font-family:'Liberation Sans',sans-serif;font-size:5.7px;font-weight:bold;" stroke="#0c0c0c" stroke-width="0.45">2/14/2021</text>
<text transform="translate(657.50 345.90) rotate(-60) scale(1.0700 1)" text-anchor="end" fill="#0c0c0c" style="font-family:'Liberation Sans',sans-serif;font-size:5.7px;font-weight:bold;" stroke="#0c0c0c" stroke-width="0.45">2/21/2021</text>
<text transform="translate(669.79 345.90) rotate(-60) scale(1.0700 1)" text-anchor="end" fill="#0c0c0c" style="font-family:'Liberation Sans',sans-serif;font-size:5.7px;font-weight:bold;" stroke="#0c0c0c" stroke-width="0.45">2/28/2021</text>
<text transform="translate(682.08 345.90) rotate(-60) scale(1.0700 1)" text-anchor="end" fill="#0c0c0c" style="font-family:'Liberation Sans',sans-serif;font-size:5.7px;font-weight:bold;" stroke="#0c0c0c" stroke-width="0.45">3/7/2021</text>
<text transform="translate(694.37 345.90) rotate(-60) scale(1.0700 1)" text-anchor="end" fill="#0c0c0c" style="font-family:'Liberation Sans',sans-serif;font-size:5.7px;font-weight:bold;" stroke="#0c0c0c" stroke-width="0.45">3/14/2021</text>
<text transform="translate(706.66 345.90) rotate(-60) scale(1.0700 1)" text-anchor="end" fill="#0c0c0c" style="font-family:'Liberation Sans',sans-serif;font-size:5.7px;font-weight:bold;" stroke="#0c0c0c" stroke-width="0.45">3/21/2021</text>
<text transform="translate(200.20 402.30) scale(0.8474 1)" text-anchor="middle" fill="#A20E33" style="font-family:'Liberation Sans',sans-serif;font-size:14px;font-weight:bold;" >$ Sales % Chg. vs. Total Produce</text>
<rect x="147.60" y="426.20" width="3.60" height="3.60" fill="#A9A57C" />
<text transform="translate(152.80 431.10) scale(0.6714 1)" text-anchor="start" fill="#222" style="font-family:'Liberation Sans',sans-serif;font-size:7.6px;"  stroke="#222" stroke-width="0.2">MUSHROOMS</text>
<rect x="194.30" y="426.20" width="3.60" height="3.60" fill="#9CBEBD" />
<text transform="translate(199.40 431.10) scale(0.6287 1)" text-anchor="start" fill="#222" style="font-family:'Liberation Sans',sans-serif;font-size:7.6px;"  stroke="#222" stroke-width="0.2">TOTAL PRODUCE</text>
<rect x="56.50" y="540.20" width="26.30" height="14.70" fill="#A9A57C" />
<text transform="translate(69.65 568.30) scale(0.6250 1)" text-anchor="middle" fill="#E0201C" style="font-family:'Liberation Sans',sans-serif;font-size:9.0px;font-weight:bold;"  stroke="#E0201C" stroke-width="0.3">-3.3%</text>
<rect x="82.80" y="540.20" width="26.30" height="30.60" fill="#9CBEBD" />
<text transform="translate(95.95 584.20) scale(0.6250 1)" text-anchor="middle" fill="#E0201C" style="font-family:'Liberation Sans',sans-serif;font-size:9.0px;font-weight:bold;"  stroke="#E0201C" stroke-width="0.3">-6.7%</text>
<text transform="translate(82.92 600.70) scale(0.6171 1)" text-anchor="middle" fill="#222" style="font-family:'Liberation Sans',sans-serif;font-size:8.6px;"  stroke="#222" stroke-width="0.2">Last 04 Wks</text>
<rect x="129.55" y="504.10" width="26.30" height="36.10" fill="#A9A57C" />
<text transform="translate(142.70 497.90) scale(0.6250 1)" text-anchor="middle" fill="#2a2a2a" style="font-family:'Liberation Sans',sans-serif;font-size:9.0px;font-weight:bold;"  stroke="#2a2a2a" stroke-width="0.3">7.7%</text>
<rect x="155.85" y="525.50" width="26.30" height="14.70" fill="#9CBEBD" />
<text transform="translate(169.00 519.30) scale(0.6250 1)" text-anchor="middle" fill="#2a2a2a" style="font-family:'Liberation Sans',sans-serif;font-size:9.0px;font-weight:bold;"  stroke="#2a2a2a" stroke-width="0.3">3.0%</text>
<text transform="translate(155.97 600.70) scale(0.6171 1)" text-anchor="middle" fill="#222" style="font-family:'Liberation Sans',sans-serif;font-size:8.6px;"  stroke="#222" stroke-width="0.2">Last 13 Wks</text>
<rect x="202.60" y="493.90" width="26.30" height="46.30" fill="#A9A57C" />
<text transform="translate(215.75 487.70) scale(0.6250 1)" text-anchor="middle" fill="#2a2a2a" style="font-family:'Liberation Sans',sans-serif;font-size:9.0px;font-weight:bold;"  stroke="#2a2a2a" stroke-width="0.3">9.8%</text>
<rect x="228.90" y="515.00" width="26.30" height="25.20" fill="#9CBEBD" />
<text transform="translate(242.05 508.80) scale(0.6250 1)" text-anchor="middle" fill="#2a2a2a" style="font-family:'Liberation Sans',sans-serif;font-size:9.0px;font-weight:bold;"  stroke="#2a2a2a" stroke-width="0.3">5.3%</text>
<text transform="translate(229.03 600.70) scale(0.6171 1)" text-anchor="middle" fill="#222" style="font-family:'Liberation Sans',sans-serif;font-size:8.6px;"  stroke="#222" stroke-width="0.2">Last 26 Wks</text>
<rect x="275.65" y="461.90" width="26.30" height="78.30" fill="#A9A57C" />
<text transform="translate(288.80 455.70) scale(0.6250 1)" text-anchor="middle" fill="#2a2a2a" style="font-family:'Liberation Sans',sans-serif;font-size:9.0px;font-weight:bold;"  stroke="#2a2a2a" stroke-width="0.3">16.9%</text>
<rect x="301.95" y="499.50" width="26.30" height="40.70" fill="#9CBEBD" />
<text transform="translate(315.10 493.30) scale(0.6250 1)" text-anchor="middle" fill="#2a2a2a" style="font-family:'Liberation Sans',sans-serif;font-size:9.0px;font-weight:bold;"  stroke="#2a2a2a" stroke-width="0.3">8.6%</text>
<text transform="translate(302.07 600.70) scale(0.6171 1)" text-anchor="middle" fill="#222" style="font-family:'Liberation Sans',sans-serif;font-size:8.6px;"  stroke="#222" stroke-width="0.2">Last 52 Wks</text>
<line x1="46.40" y1="540.20" x2="338.60" y2="540.20" stroke="#8a8f90" stroke-width="1" />
<line x1="46.40" y1="540.20" x2="46.40" y2="542.80" stroke="#8a8f90" stroke-width="0.8" />
<line x1="119.45" y1="540.20" x2="119.45" y2="542.80" stroke="#8a8f90" stroke-width="0.8" />
<line x1="192.50" y1="540.20" x2="192.50" y2="542.80" stroke="#8a8f90" stroke-width="0.8" />
<line x1="265.55" y1="540.20" x2="265.55" y2="542.80" stroke="#8a8f90" stroke-width="0.8" />
<line x1="338.60" y1="540.20" x2="338.60" y2="542.80" stroke="#8a8f90" stroke-width="0.8" />
<text transform="translate(570.00 400.20) scale(0.8928 1)" text-anchor="middle" fill="#A20E33" style="font-family:'Liberation Sans',sans-serif;font-size:14px;font-weight:bold;" >L4-wk $ Share by Variety (in Millions)</text>
<path d="M477.90 502.80 L496.09 425.16 A71.2 80.3 0 0 1 499.02 579.49 Z" fill="#C3C1A9" stroke="#C3C1A9" stroke-width="0.4"/>
<path d="M477.90 502.80 L499.02 579.49 A71.2 80.3 0 0 1 467.97 582.31 Z" fill="#84928F" stroke="#84928F" stroke-width="0.4"/>
<path d="M477.90 502.80 L467.97 582.31 A71.2 80.3 0 0 1 458.97 580.21 Z" fill="#D9D16F" stroke="#D9D16F" stroke-width="0.4"/>
<path d="M477.90 502.80 L458.97 580.21 A71.2 80.3 0 0 1 496.09 425.16 Z" fill="#9F8F7F" stroke="#9F8F7F" stroke-width="0.4"/>
<ellipse cx="658.2" cy="502.9" rx="53.7" ry="60.1" fill="#9E9974"/>
<path d="M658.20 502.90 L705.17 532.04 A53.7 60.1 0 0 1 673.45 560.53 Z" fill="#92AEB0" stroke="#92AEB0" stroke-width="0.4"/>
<line x1="496.50" y1="425.60" x2="662.40" y2="442.80" stroke="#1a1a1a" stroke-width="1.2" />
<line x1="496.50" y1="579.40" x2="662.40" y2="562.90" stroke="#1a1a1a" stroke-width="1.2" />
<text transform="translate(433.70 489.50) scale(0.9200 1)" text-anchor="middle" fill="#3a3a3a" style="font-family:'Liberation Sans',sans-serif;font-size:9.6px;font-weight:bold;" >White</text>
<text transform="translate(433.70 502.10) scale(0.9200 1)" text-anchor="middle" fill="#3a3a3a" style="font-family:'Liberation Sans',sans-serif;font-size:9.6px;font-weight:bold;" >$58.2</text>
<text transform="translate(433.70 514.70) scale(0.9200 1)" text-anchor="middle" fill="#3a3a3a" style="font-family:'Liberation Sans',sans-serif;font-size:9.6px;font-weight:bold;" >50%</text>
<text transform="translate(507.50 491.00) scale(0.9200 1)" text-anchor="middle" fill="#3a3a3a" style="font-family:'Liberation Sans',sans-serif;font-size:9.6px;font-weight:bold;" >Brown</text>
<text transform="translate(507.50 503.60) scale(0.9200 1)" text-anchor="middle" fill="#3a3a3a" style="font-family:'Liberation Sans',sans-serif;font-size:9.6px;font-weight:bold;" >$48.0</text>
<text transform="translate(507.50 516.20) scale(0.9200 1)" text-anchor="middle" fill="#3a3a3a" style="font-family:'Liberation Sans',sans-serif;font-size:9.6px;font-weight:bold;" >41%</text>
<text transform="translate(488.00 545.60) scale(0.9200 1)" text-anchor="middle" fill="#3a3a3a" style="font-family:'Liberation Sans',sans-serif;font-size:9.6px;font-weight:bold;" >Specialty</text>
<text transform="translate(488.00 558.20) scale(0.9200 1)" text-anchor="middle" fill="#3a3a3a" style="font-family:'Liberation Sans',sans-serif;font-size:9.6px;font-weight:bold;" >$8.2</text>
<text transform="translate(488.00 570.80) scale(0.9200 1)" text-anchor="middle" fill="#3a3a3a" style="font-family:'Liberation Sans',sans-serif;font-size:9.6px;font-weight:bold;" >7%</text>
<text transform="translate(432.50 552.70) scale(0.9200 1)" text-anchor="middle" fill="#3a3a3a" style="font-family:'Liberation Sans',sans-serif;font-size:9.6px;font-weight:bold;" >Value Added</text>
<text transform="translate(432.50 565.70) scale(0.9200 1)" text-anchor="middle" fill="#3a3a3a" style="font-family:'Liberation Sans',sans-serif;font-size:9.6px;font-weight:bold;" >$2.4</text>
<text transform="translate(432.50 578.70) scale(0.9200 1)" text-anchor="middle" fill="#3a3a3a" style="font-family:'Liberation Sans',sans-serif;font-size:9.6px;font-weight:bold;" >2%</text>
<text transform="translate(377.50 550.60) scale(0.9200 1)" text-anchor="middle" fill="#3a3a3a" style="font-family:'Liberation Sans',sans-serif;font-size:9.6px;font-weight:bold;" >Dried</text>
<text transform="translate(377.50 563.50) scale(0.9200 1)" text-anchor="middle" fill="#3a3a3a" style="font-family:'Liberation Sans',sans-serif;font-size:9.6px;font-weight:bold;" >$0.0</text>
<text transform="translate(377.50 576.40) scale(0.9200 1)" text-anchor="middle" fill="#3a3a3a" style="font-family:'Liberation Sans',sans-serif;font-size:9.6px;font-weight:bold;" >0%</text>
<text transform="translate(655.00 460.00) scale(0.9200 1)" text-anchor="middle" fill="#3a3a3a" style="font-family:'Liberation Sans',sans-serif;font-size:9.6px;font-weight:bold;" >Brown -</text>
<text transform="translate(655.00 473.20) scale(0.9200 1)" text-anchor="middle" fill="#3a3a3a" style="font-family:'Liberation Sans',sans-serif;font-size:9.6px;font-weight:bold;" >Cremini</text>
<text transform="translate(655.00 486.40) scale(0.9200 1)" text-anchor="middle" fill="#3a3a3a" style="font-family:'Liberation Sans',sans-serif;font-size:9.6px;font-weight:bold;" >$42.1</text>
<text transform="translate(655.00 499.60) scale(0.9200 1)" text-anchor="middle" fill="#3a3a3a" style="font-family:'Liberation Sans',sans-serif;font-size:9.6px;font-weight:bold;" >36%</text>
<text transform="translate(676.00 510.50) scale(0.9200 1)" text-anchor="middle" fill="#3a3a3a" style="font-family:'Liberation Sans',sans-serif;font-size:9.6px;font-weight:bold;" >Brown -</text>
<text transform="translate(676.00 523.40) scale(0.9200 1)" text-anchor="middle" fill="#3a3a3a" style="font-family:'Liberation Sans',sans-serif;font-size:9.6px;font-weight:bold;" >Portabella</text>
<text transform="translate(676.00 536.30) scale(0.9200 1)" text-anchor="middle" fill="#3a3a3a" style="font-family:'Liberation Sans',sans-serif;font-size:9.6px;font-weight:bold;" >$5.9</text>
<text transform="translate(676.00 549.20) scale(0.9200 1)" text-anchor="middle" fill="#3a3a3a" style="font-family:'Liberation Sans',sans-serif;font-size:9.6px;font-weight:bold;" >5%</text>
<text transform="translate(256.50 638.90) scale(0.8697 1)" text-anchor="middle" fill="#A20E33" style="font-family:'Liberation Sans',sans-serif;font-size:14px;font-weight:bold;" >L4-wk Average Price per Pound</text>
<rect x="84.40" y="654.70" width="374.30" height="17.90" fill="#D5D0C5" />
<rect x="40.50" y="672.60" width="43.90" height="37.30" fill="#D4D0C6" />
<text transform="translate(127.00 667.50) scale(0.4508 1)" text-anchor="middle" fill="#33416F" style="font-family:'Liberation Sans',sans-serif;font-size:10.2px;font-weight:bold;"  stroke="#33416F" stroke-width="0.3">TOTAL MUSHROOMS</text>
<text transform="translate(127.00 686.50) scale(0.5100 1)" text-anchor="middle" fill="#222" style="font-family:'Liberation Sans',sans-serif;font-size:10.4px;font-weight:bold;"  stroke="#222" stroke-width="0.3">$4.36</text>
<text transform="translate(127.00 704.70) scale(0.5450 1)" text-anchor="middle" fill="#222" style="font-family:'Liberation Sans',sans-serif;font-size:10.4px;font-weight:bold;"  stroke="#222" stroke-width="0.3">+1.0%</text>
<text transform="translate(190.05 667.50) scale(0.4626 1)" text-anchor="middle" fill="#33416F" style="font-family:'Liberation Sans',sans-serif;font-size:10.2px;font-weight:bold;"  stroke="#33416F" stroke-width="0.3">WHITE</text>
<text transform="translate(190.05 686.50) scale(0.5100 1)" text-anchor="middle" fill="#222" style="font-family:'Liberation Sans',sans-serif;font-size:10.4px;font-weight:bold;"  stroke="#222" stroke-width="0.3">$3.83</text>
<text transform="translate(190.05 704.70) scale(0.5450 1)" text-anchor="middle" fill="#E0201C" style="font-family:'Liberation Sans',sans-serif;font-size:10.4px;font-weight:bold;"  stroke="#E0201C" stroke-width="0.3">-0.8%</text>
<text transform="translate(230.25 667.50) scale(0.4513 1)" text-anchor="middle" fill="#33416F" style="font-family:'Liberation Sans',sans-serif;font-size:10.2px;font-weight:bold;"  stroke="#33416F" stroke-width="0.3">BROWN</text>
<text transform="translate(230.25 686.50) scale(0.5100 1)" text-anchor="middle" fill="#222" style="font-family:'Liberation Sans',sans-serif;font-size:10.4px;font-weight:bold;"  stroke="#222" stroke-width="0.3">$4.66</text>
<text transform="translate(230.25 704.70) scale(0.5450 1)" text-anchor="middle" fill="#222" style="font-family:'Liberation Sans',sans-serif;font-size:10.4px;font-weight:bold;"  stroke="#222" stroke-width="0.3">+0.5%</text>
<text transform="translate(271.70 667.50) scale(0.4714 1)" text-anchor="middle" fill="#33416F" style="font-family:'Liberation Sans',sans-serif;font-size:10.2px;font-weight:bold;"  stroke="#33416F" stroke-width="0.3">CREMINI</text>
<text transform="translate(271.70 686.50) scale(0.5100 1)" text-anchor="middle" fill="#222" style="font-family:'Liberation Sans',sans-serif;font-size:10.4px;font-weight:bold;"  stroke="#222" stroke-width="0.3">$4.48</text>
<text transform="translate(271.70 704.70) scale(0.5450 1)" text-anchor="middle" fill="#222" style="font-family:'Liberation Sans',sans-serif;font-size:10.4px;font-weight:bold;"  stroke="#222" stroke-width="0.3">+0.3%</text>
<text transform="translate(313.85 667.50) scale(0.4439 1)" text-anchor="middle" fill="#33416F" style="font-family:'Liberation Sans',sans-serif;font-size:10.2px;font-weight:bold;"  stroke="#33416F" stroke-width="0.3">PORTABELLA</text>
<text transform="translate(313.85 686.50) scale(0.5100 1)" text-anchor="middle" fill="#222" style="font-family:'Liberation Sans',sans-serif;font-size:10.4px;font-weight:bold;"  stroke="#222" stroke-width="0.3">$6.47</text>
<text transform="translate(313.85 704.70) scale(0.5450 1)" text-anchor="middle" fill="#222" style="font-family:'Liberation Sans',sans-serif;font-size:10.4px;font-weight:bold;"  stroke="#222" stroke-width="0.3">+2.0%</text>
<text transform="translate(354.80 667.50) scale(0.4790 1)" text-anchor="middle" fill="#33416F" style="font-family:'Liberation Sans',sans-serif;font-size:10.2px;font-weight:bold;"  stroke="#33416F" stroke-width="0.3">DRIED</text>
<text transform="translate(354.80 686.50) scale(0.5100 1)" text-anchor="middle" fill="#222" style="font-family:'Liberation Sans',sans-serif;font-size:10.4px;font-weight:bold;"  stroke="#222" stroke-width="0.3">$18.63</text>
<text transform="translate(354.80 704.70) scale(0.5450 1)" text-anchor="middle" fill="#E0201C" style="font-family:'Liberation Sans',sans-serif;font-size:10.4px;font-weight:bold;"  stroke="#E0201C" stroke-width="0.3">-2.0%</text>
<text transform="translate(395.80 667.50) scale(0.4674 1)" text-anchor="middle" fill="#33416F" style="font-family:'Liberation Sans',sans-serif;font-size:10.2px;font-weight:bold;"  stroke="#33416F" stroke-width="0.3">SPECIALTY</text>
<text transform="translate(395.80 686.50) scale(0.5100 1)" text-anchor="middle" fill="#222" style="font-family:'Liberation Sans',sans-serif;font-size:10.4px;font-weight:bold;"  stroke="#222" stroke-width="0.3">$11.00</text>
<text transform="translate(395.80 704.70) scale(0.5450 1)" text-anchor="middle" fill="#E0201C" style="font-family:'Liberation Sans',sans-serif;font-size:10.4px;font-weight:bold;"  stroke="#E0201C" stroke-width="0.3">-2.4%</text>
<text transform="translate(437.50 667.50) scale(0.4605 1)" text-anchor="middle" fill="#33416F" style="font-family:'Liberation Sans',sans-serif;font-size:10.2px;font-weight:bold;"  stroke="#33416F" stroke-width="0.3">VALUE ADDED</text>
<text transform="translate(437.50 686.50) scale(0.5100 1)" text-anchor="middle" fill="#222" style="font-family:'Liberation Sans',sans-serif;font-size:10.4px;font-weight:bold;"  stroke="#222" stroke-width="0.3">$4.53</text>
<text transform="translate(437.50 704.70) scale(0.5450 1)" text-anchor="middle" fill="#222" style="font-family:'Liberation Sans',sans-serif;font-size:10.4px;font-weight:bold;"  stroke="#222" stroke-width="0.3">+7.9%</text>
<text transform="translate(62.40 686.40) scale(0.4737 1)" text-anchor="middle" fill="#33416F" style="font-family:'Liberation Sans',sans-serif;font-size:10.4px;font-weight:bold;"  stroke="#33416F" stroke-width="0.3">Avg. Price/Lb</text>
<text transform="translate(62.40 704.60) scale(0.4664 1)" text-anchor="middle" fill="#33416F" style="font-family:'Liberation Sans',sans-serif;font-size:10.4px;font-weight:bold;"  stroke="#33416F" stroke-width="0.3">% Chg vs. PY</text>
<line x1="169.60" y1="654.70" x2="169.60" y2="709.90" stroke="#556E6A" stroke-width="1" />
<line x1="210.50" y1="654.70" x2="210.50" y2="709.90" stroke="#556E6A" stroke-width="1" />
<line x1="250.00" y1="654.70" x2="250.00" y2="709.90" stroke="#556E6A" stroke-width="1" />
<line x1="293.40" y1="654.70" x2="293.40" y2="709.90" stroke="#556E6A" stroke-width="1" />
<line x1="334.30" y1="654.70" x2="334.30" y2="709.90" stroke="#556E6A" stroke-width="1" />
<line x1="375.30" y1="654.70" x2="375.30" y2="709.90" stroke="#556E6A" stroke-width="1" />
<line x1="416.30" y1="654.70" x2="416.30" y2="709.90" stroke="#556E6A" stroke-width="1" />
<line x1="84.40" y1="654.70" x2="84.40" y2="709.90" stroke="#556E6A" stroke-width="1.3" />
<line x1="458.70" y1="654.00" x2="458.70" y2="710.60" stroke="#556E6A" stroke-width="1.5" />
<line x1="40.50" y1="671.90" x2="40.50" y2="710.60" stroke="#556E6A" stroke-width="1.5" />
<line x1="83.70" y1="654.70" x2="458.70" y2="654.70" stroke="#556E6A" stroke-width="1.5" />
<line x1="40.50" y1="672.60" x2="458.70" y2="672.60" stroke="#556E6A" stroke-width="1.4" />
<line x1="40.50" y1="691.50" x2="458.70" y2="691.50" stroke="#556E6A" stroke-width="1.1" />
<line x1="40.50" y1="709.90" x2="458.70" y2="709.90" stroke="#556E6A" stroke-width="1.6" />
<text transform="translate(257.80 733.30) scale(0.9825 1)" text-anchor="middle" fill="#A20E33" style="font-family:'Liberation Sans',sans-serif;font-size:14px;font-weight:bold;" >Whole/Sliced</text>
<text transform="translate(150.00 761.60) scale(0.8635 1)" text-anchor="middle" fill="#A20E33" style="font-family:'Liberation Sans',sans-serif;font-size:14px;font-weight:bold;" >L4-wk $ Share</text>
<text transform="translate(369.80 761.80) scale(0.8438 1)" text-anchor="middle" fill="#A20E33" style="font-family:'Liberation Sans',sans-serif;font-size:14px;font-weight:bold;" >L4-wk $ Sales % Chg.</text>
<path d="M156.40 861.20 L156.40 773.20 A88 88 0 0 1 174.40 947.34 Z" fill="#D2CB6C" stroke="#D2CB6C" stroke-width="0.4"/>
<path d="M156.40 861.20 L174.40 947.34 A88 88 0 1 1 156.40 773.20 Z" fill="#9CBEBD" stroke="#9CBEBD" stroke-width="0.4"/>
<text transform="translate(106.30 835.70) scale(0.8957 1)" text-anchor="middle" fill="#3a3a3a" style="font-family:'Liberation Sans',sans-serif;font-size:10.2px;font-weight:bold;" >WHOLE</text>
<text transform="translate(106.30 849.00) scale(1.0099 1)" text-anchor="middle" fill="#3a3a3a" style="font-family:'Liberation Sans',sans-serif;font-size:10.2px;font-weight:bold;" >$62.3 MM</text>
<text transform="translate(106.30 862.30) scale(0.8817 1)" text-anchor="middle" fill="#3a3a3a" style="font-family:'Liberation Sans',sans-serif;font-size:10.2px;font-weight:bold;" >53%</text>
<text transform="translate(205.50 864.20) scale(0.8422 1)" text-anchor="middle" fill="#3a3a3a" style="font-family:'Liberation Sans',sans-serif;font-size:10.2px;font-weight:bold;" >SLICED</text>
<text transform="translate(205.50 877.50) scale(1.0099 1)" text-anchor="middle" fill="#3a3a3a" style="font-family:'Liberation Sans',sans-serif;font-size:10.2px;font-weight:bold;" >$54.5 MM</text>
<text transform="translate(205.50 890.80) scale(0.8817 1)" text-anchor="middle" fill="#3a3a3a" style="font-family:'Liberation Sans',sans-serif;font-size:10.2px;font-weight:bold;" >47%</text>
<text transform="translate(42.20 966.40) scale(1.0064 1)" text-anchor="start" fill="#333" style="font-family:'Liberation Sans',sans-serif;font-size:10.6px;" >IRI/FreshLook Data through 03/21/2021</text>
<rect x="284.80" y="778.00" width="59.40" height="30.90" fill="#9CBEBD" />
<rect x="391.30" y="778.00" width="59.70" height="146.90" fill="#D2CB6C" />
<line x1="261.00" y1="778.00" x2="474.40" y2="778.00" stroke="#c2c2c2" stroke-width="0.9" />
<line x1="261.00" y1="778.00" x2="261.00" y2="781.60" stroke="#b8b8b8" stroke-width="0.9" />
<line x1="367.70" y1="778.00" x2="367.70" y2="781.60" stroke="#b8b8b8" stroke-width="0.9" />
<line x1="474.40" y1="778.00" x2="474.40" y2="781.60" stroke="#b8b8b8" stroke-width="0.9" />
<text transform="translate(314.80 794.80) scale(0.8787 1)" text-anchor="middle" fill="#111" style="font-family:'Liberation Sans',sans-serif;font-size:9.0px;" stroke="#111" stroke-width="0.2">WHOLE</text>
<text transform="translate(421.10 794.80) scale(0.8305 1)" text-anchor="middle" fill="#111" style="font-family:'Liberation Sans',sans-serif;font-size:9.0px;" stroke="#111" stroke-width="0.2">SLICED</text>
<text transform="translate(314.80 823.80) scale(0.9754 1)" text-anchor="middle" fill="#D8232A" style="font-family:'Liberation Sans',sans-serif;font-size:10.4px;font-weight:bold;" >-1.2%</text>
<text transform="translate(421.10 939.40) scale(0.9570 1)" text-anchor="middle" fill="#D8232A" style="font-family:'Liberation Sans',sans-serif;font-size:10.4px;font-weight:bold;" >-5.6%</text>
<text transform="translate(606.50 636.50) scale(0.8483 1)" text-anchor="middle" fill="#A20E33" style="font-family:'Liberation Sans',sans-serif;font-size:14px;font-weight:bold;" >$ Sales % Chg. by Segment</text>
<rect x="559.20" y="670.00" width="3.60" height="3.60" fill="#D5CDC2" />
<text transform="translate(564.80 674.90) scale(0.7487 1)" text-anchor="start" fill="#222" style="font-family:'Liberation Sans',sans-serif;font-size:8.4px;"  stroke="#222" stroke-width="0.2">Last 04 Wks</text>
<rect x="605.80" y="670.00" width="3.60" height="3.60" fill="#9CBEBD" />
<text transform="translate(612.00 674.90) scale(0.7443 1)" text-anchor="start" fill="#222" style="font-family:'Liberation Sans',sans-serif;font-size:8.4px;"  stroke="#222" stroke-width="0.2">Last 52 Wks</text>
<rect x="611.63" y="692.70" width="22.17" height="14.40" fill="#D5CDC2" />
<text transform="translate(609.03 703.00) scale(0.7130 1)" text-anchor="end" fill="#E0201C" style="font-family:'Liberation Sans',sans-serif;font-size:8.6px;font-weight:bold;"  stroke="#E0201C" stroke-width="0.3">-9.2%</text>
<rect x="633.80" y="707.10" width="31.09" height="14.40" fill="#9CBEBD" />
<text transform="translate(669.09 717.40) scale(0.7130 1)" text-anchor="start" fill="#2a2a2a" style="font-family:'Liberation Sans',sans-serif;font-size:8.6px;font-weight:bold;"  stroke="#2a2a2a" stroke-width="0.3">+12.9%</text>
<text transform="translate(623.60 710.74) scale(0.7130 1)" text-anchor="end" fill="#2a2a2a" style="font-family:'Liberation Sans',sans-serif;font-size:8.6px;font-weight:bold;"  stroke="#2a2a2a" stroke-width="0.3">White</text>
<rect x="633.80" y="730.38" width="42.90" height="14.40" fill="#D5CDC2" />
<text transform="translate(680.90 740.68) scale(0.7130 1)" text-anchor="start" fill="#2a2a2a" style="font-family:'Liberation Sans',sans-serif;font-size:8.6px;font-weight:bold;"  stroke="#2a2a2a" stroke-width="0.3">+17.8%</text>
<rect x="633.80" y="744.78" width="25.79" height="14.40" fill="#9CBEBD" />
<text transform="translate(663.79 755.08) scale(0.7130 1)" text-anchor="start" fill="#2a2a2a" style="font-family:'Liberation Sans',sans-serif;font-size:8.6px;font-weight:bold;"  stroke="#2a2a2a" stroke-width="0.3">+10.7%</text>
<text transform="translate(623.60 748.42) scale(0.7130 1)" text-anchor="end" fill="#2a2a2a" style="font-family:'Liberation Sans',sans-serif;font-size:8.6px;font-weight:bold;"  stroke="#2a2a2a" stroke-width="0.3">Value Added</text>
<rect x="633.80" y="768.06" width="32.29" height="14.40" fill="#D5CDC2" />
<text transform="translate(670.29 778.36) scale(0.7130 1)" text-anchor="start" fill="#2a2a2a" style="font-family:'Liberation Sans',sans-serif;font-size:8.6px;font-weight:bold;"  stroke="#2a2a2a" stroke-width="0.3">+13.4%</text>
<rect x="633.80" y="782.46" width="67.96" height="14.40" fill="#9CBEBD" />
<text transform="translate(705.96 792.76) scale(0.7130 1)" text-anchor="start" fill="#2a2a2a" style="font-family:'Liberation Sans',sans-serif;font-size:8.6px;font-weight:bold;"  stroke="#2a2a2a" stroke-width="0.3">+28.2%</text>
<text transform="translate(623.60 786.10) scale(0.7130 1)" text-anchor="end" fill="#2a2a2a" style="font-family:'Liberation Sans',sans-serif;font-size:8.6px;font-weight:bold;"  stroke="#2a2a2a" stroke-width="0.3">Specialty</text>
<rect x="539.09" y="805.74" width="94.71" height="14.40" fill="#D5CDC2" />
<text transform="translate(536.49 816.04) scale(0.7130 1)" text-anchor="end" fill="#E0201C" style="font-family:'Liberation Sans',sans-serif;font-size:8.6px;font-weight:bold;"  stroke="#E0201C" stroke-width="0.3">-39.3%</text>
<rect x="633.80" y="820.14" width="30.12" height="14.40" fill="#9CBEBD" />
<text transform="translate(668.12 830.44) scale(0.7130 1)" text-anchor="start" fill="#2a2a2a" style="font-family:'Liberation Sans',sans-serif;font-size:8.6px;font-weight:bold;"  stroke="#2a2a2a" stroke-width="0.3">+12.5%</text>
<text transform="translate(623.60 823.78) scale(0.7130 1)" text-anchor="end" fill="#2a2a2a" style="font-family:'Liberation Sans',sans-serif;font-size:8.6px;font-weight:bold;"  stroke="#2a2a2a" stroke-width="0.3">Dried</text>
<rect x="633.80" y="843.42" width="4.58" height="14.40" fill="#D5CDC2" />
<text transform="translate(642.58 853.72) scale(0.7130 1)" text-anchor="start" fill="#2a2a2a" style="font-family:'Liberation Sans',sans-serif;font-size:8.6px;font-weight:bold;"  stroke="#2a2a2a" stroke-width="0.3">+1.9%</text>
<rect x="633.80" y="857.82" width="42.18" height="14.40" fill="#9CBEBD" />
<text transform="translate(680.17 868.12) scale(0.7130 1)" text-anchor="start" fill="#2a2a2a" style="font-family:'Liberation Sans',sans-serif;font-size:8.6px;font-weight:bold;"  stroke="#2a2a2a" stroke-width="0.3">+17.5%</text>
<text transform="translate(623.60 861.46) scale(0.7130 1)" text-anchor="end" fill="#2a2a2a" style="font-family:'Liberation Sans',sans-serif;font-size:8.6px;font-weight:bold;"  stroke="#2a2a2a" stroke-width="0.3">Brown - Portabella</text>
<rect x="633.80" y="881.10" width="2.65" height="14.40" fill="#D5CDC2" />
<text transform="translate(640.65 891.40) scale(0.7130 1)" text-anchor="start" fill="#2a2a2a" style="font-family:'Liberation Sans',sans-serif;font-size:8.6px;font-weight:bold;"  stroke="#2a2a2a" stroke-width="0.3">+1.1%</text>
<rect x="633.80" y="895.50" width="52.06" height="14.40" fill="#9CBEBD" />
<text transform="translate(690.06 905.80) scale(0.7130 1)" text-anchor="start" fill="#2a2a2a" style="font-family:'Liberation Sans',sans-serif;font-size:8.6px;font-weight:bold;"  stroke="#2a2a2a" stroke-width="0.3">+21.6%</text>
<text transform="translate(623.60 899.14) scale(0.7130 1)" text-anchor="end" fill="#2a2a2a" style="font-family:'Liberation Sans',sans-serif;font-size:8.6px;font-weight:bold;"  stroke="#2a2a2a" stroke-width="0.3">Brown - Cremini</text>
<rect x="633.80" y="918.78" width="2.89" height="14.40" fill="#D5CDC2" />
<text transform="translate(640.89 929.08) scale(0.7130 1)" text-anchor="start" fill="#2a2a2a" style="font-family:'Liberation Sans',sans-serif;font-size:8.6px;font-weight:bold;"  stroke="#2a2a2a" stroke-width="0.3">+1.2%</text>
<rect x="633.80" y="933.18" width="50.61" height="14.40" fill="#9CBEBD" />
<text transform="translate(688.61 943.48) scale(0.7130 1)" text-anchor="start" fill="#2a2a2a" style="font-family:'Liberation Sans',sans-serif;font-size:8.6px;font-weight:bold;"  stroke="#2a2a2a" stroke-width="0.3">+21.0%</text>
<text transform="translate(623.60 936.82) scale(0.7130 1)" text-anchor="end" fill="#2a2a2a" style="font-family:'Liberation Sans',sans-serif;font-size:8.6px;font-weight:bold;"  stroke="#2a2a2a" stroke-width="0.3">Brown</text>
<line x1="633.80" y1="688.30" x2="633.80" y2="952.06" stroke="#8a8f90" stroke-width="1" />
<line x1="631.20" y1="688.30" x2="633.80" y2="688.30" stroke="#8a8f90" stroke-width="0.8" />
<line x1="631.20" y1="725.98" x2="633.80" y2="725.98" stroke="#8a8f90" stroke-width="0.8" />
<line x1="631.20" y1="763.66" x2="633.80" y2="763.66" stroke="#8a8f90" stroke-width="0.8" />
<line x1="631.20" y1="801.34" x2="633.80" y2="801.34" stroke="#8a8f90" stroke-width="0.8" />
<line x1="631.20" y1="839.02" x2="633.80" y2="839.02" stroke="#8a8f90" stroke-width="0.8" />
<line x1="631.20" y1="876.70" x2="633.80" y2="876.70" stroke="#8a8f90" stroke-width="0.8" />
<line x1="631.20" y1="914.38" x2="633.80" y2="914.38" stroke="#8a8f90" stroke-width="0.8" />
<line x1="631.20" y1="952.06" x2="633.80" y2="952.06" stroke="#8a8f90" stroke-width="0.8" />
</svg>
</body></html>
